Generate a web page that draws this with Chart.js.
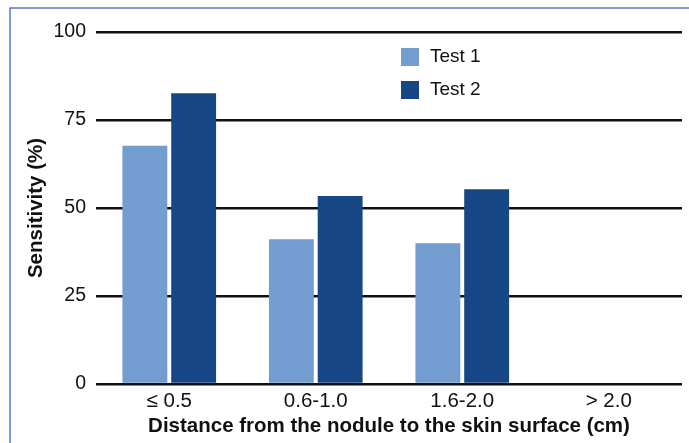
<!DOCTYPE html>
<html>
<head>
<meta charset="UTF-8">
<script src="https://cdn.jsdelivr.net/npm/chart.js@4"></script>
<style>
html, body { margin: 0; padding: 0; background: #fff; }
</style>
</head>
<body>
<canvas id="chart" width="689" height="443"></canvas>
<script>
const categories = ['≤ 0.5', '0.6-1.0', '1.6-2.0', '> 2.0'];
const test1 = [67.7, 41.1, 40.0, null];
const test2 = [82.6, 53.4, 55.3, null];
const yTicks = [0, 25, 50, 75, 100];
const seriesNames = ['Test 1', 'Test 2'];
const seriesColors = ['#739dd0', '#174687'];

const font = 'Liberation Sans, Arial, sans-serif';

// blue frame on top and left edge
const framePlugin = {
    id: 'frame',
    beforeDraw(chart) {
        const ctx = chart.ctx;
        ctx.save();
        ctx.strokeStyle = '#4f7cc9';
        ctx.lineWidth = 1.5;
        ctx.beginPath();
        ctx.moveTo(10, 443);
        ctx.lineTo(10, 8);
        ctx.lineTo(689, 8);
        ctx.stroke();
        ctx.restore();
    }
};

// vertical legend inside the plot
const legendPlugin = {
    id: 'boxLegend',
    afterDraw(chart) {
        const ctx = chart.ctx;
        ctx.save();
        ctx.font = '19px ' + font;
        ctx.textBaseline = 'middle';
        chart.data.datasets.forEach((ds, i) => {
            const y = 48 + i * 33;
            ctx.fillStyle = ds.backgroundColor;
            ctx.fillRect(401, y, 18, 18);
            ctx.fillStyle = '#111';
            ctx.fillText(ds.label, 430, y + 9);
        });
        ctx.restore();
    }
};

new Chart(document.getElementById('chart'), {
    type: 'bar',
    data: {
        labels: categories,
        datasets: [
            { label: seriesNames[0], data: test1, backgroundColor: seriesColors[0] },
            { label: seriesNames[1], data: test2, backgroundColor: seriesColors[1] }
        ]
    },
    options: {
        responsive: false,
        animation: false,
        datasets: {
            bar: { categoryPercentage: 0.666, barPercentage: 0.92 }
        },
        layout: { padding: { top: 32, right: 7, bottom: 4, left: 0 } },
        plugins: {
            legend: { display: false },
            tooltip: { enabled: false }
        },
        scales: {
            x: {
                grid: { display: false, drawTicks: false },
                border: { display: false },
                ticks: { color: '#111', font: { family: font, size: 20.5 }, padding: 5, autoSkip: false, maxRotation: 0 },
                title: {
                    display: true,
                    text: 'Distance from the nodule to the skin surface (cm)',
                    color: '#111',
                    font: { family: font, size: 20.5, weight: 'bold' },
                    padding: { top: 0, bottom: 0 }
                },
                afterFit: s => { s.height = 55; }
            },
            y: {
                min: 0,
                max: 100,
                afterBuildTicks: s => { s.ticks = yTicks.map(v => ({ value: v })); },
                grid: { color: '#111', lineWidth: 2.5, drawTicks: false },
                border: { display: false },
                ticks: { color: '#111', font: { family: font, size: 19.5 }, padding: 10 },
                title: {
                    display: true,
                    text: 'Sensitivity (%)',
                    color: '#111',
                    font: { family: font, size: 20.5, weight: 'bold' },
                    padding: { top: 24, bottom: 0 }
                },
                afterFit: s => { s.width = 96; }
            }
        }
    },
    plugins: [framePlugin, legendPlugin]
});
</script>
</body>
</html>
